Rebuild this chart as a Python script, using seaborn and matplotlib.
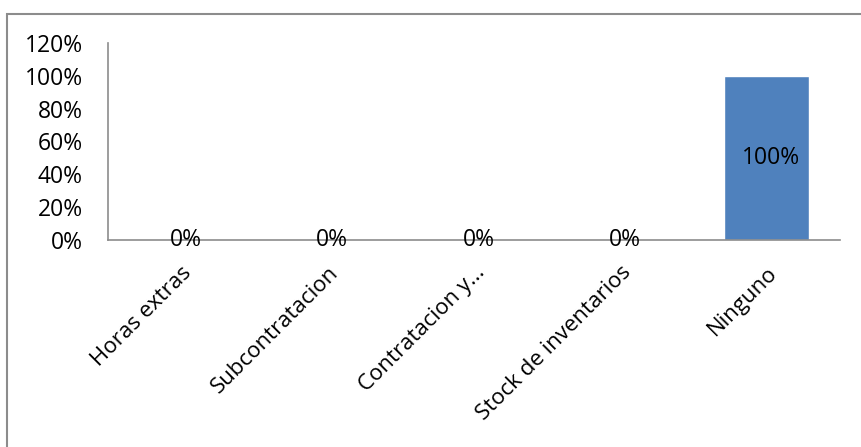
import matplotlib
matplotlib.use('Agg')
import matplotlib.pyplot as plt
import seaborn as sns
import pandas as pd
from matplotlib.patches import Rectangle
from matplotlib.ticker import PercentFormatter

categories = ['Horas extras', 'Subcontratacion', 'Contratacion y...',
              'Stock de inventarios', 'Ninguno']
values = [0, 0, 0, 0, 100]
value_labels = ['0%', '0%', '0%', '0%', '100%']
yticks = [0, 20, 40, 60, 80, 100, 120]

sns.set_theme(style='white')
plt.rcParams['font.family'] = ['Open Sans', 'DejaVu Sans']

df = pd.DataFrame({'category': categories, 'value': values})

fig = plt.figure(figsize=(8.61, 4.47), dpi=100)
ax = fig.add_axes([108 / 861, 1 - 240 / 447, (840 - 108) / 861, (240 - 43) / 447])

sns.barplot(data=df, x='category', y='value', color='#4f81bd', saturation=1,
            width=0.58, ax=ax)

fs = 16.5
ax.set_ylim(0, 120)
ax.set_xlim(-0.5, 4.5)
ax.set_yticks(yticks)
ax.yaxis.set_major_formatter(PercentFormatter(decimals=0))
ax.set_xlabel('')
ax.set_ylabel('')
ax.tick_params(axis='y', labelsize=fs, length=0, pad=18, colors='black')
ax.tick_params(axis='x', labelsize=16, length=0, pad=16, colors='black')
plt.setp(ax.get_xticklabels(), rotation=45, ha='right', rotation_mode='anchor')

for s in ['top', 'right']:
    ax.spines[s].set_visible(False)
for s in ['left', 'bottom']:
    ax.spines[s].set_color('#8c8c8c')
    ax.spines[s].set_linewidth(1.2)

for i, (v, lab) in enumerate(zip(values, value_labels)):
    if v > 0:
        ax.text(i + 0.03, v / 2, lab, ha='center', va='center', fontsize=fs, color='black')
    else:
        ax.text(i + 0.03, v, lab, ha='center', va='center', fontsize=fs, color='black')

# chart area border
fig.patches.append(Rectangle((7 / 861, -0.1), 2, 1 - 14 / 447 + 0.1,
                             transform=fig.transFigure, fill=False,
                             edgecolor='#8c8c8c', linewidth=1.5))

fig.savefig('out.png', dpi=100)
